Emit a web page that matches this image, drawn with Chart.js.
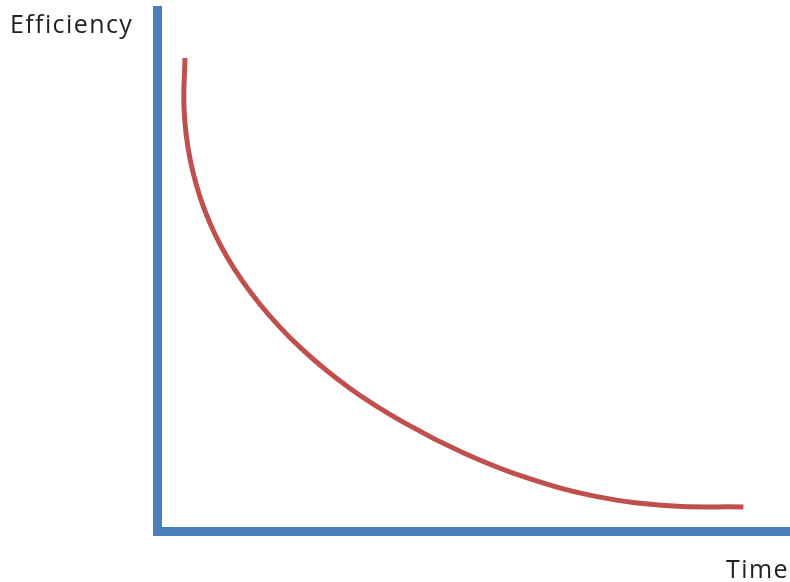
<!DOCTYPE html>
<html>
<head>
<meta charset="utf-8">
<script src="https://cdn.jsdelivr.net/npm/chart.js@4"></script>
<style>
  html, body { margin: 0; padding: 0; background: #ffffff; }
  #wrap { position: relative; width: 790px; height: 582px; }
  canvas { position: absolute; left: 0; top: 0; }
  .lbl { position: absolute; font-family: "Open Sans", sans-serif; font-size: 25px; color: #222; white-space: nowrap; line-height: 1; letter-spacing: 1.4px; }
  #ylab { left: 10px; top: 11px; }
  #xlab { left: 726px; top: 556px; }
</style>
</head>
<body>
<div id="wrap">
  <canvas id="c" width="790" height="582"></canvas>
  <div class="lbl" id="ylab">Efficiency</div>
  <div class="lbl" id="xlab">Time</div>
</div>
<script>
// Curve (x: time, y: efficiency, both on 0-100 axes)
const timeValues       = [4.42, 4.28, 5.24, 7.50, 11.18, 16.26, 22.61, 30.28, 38.96, 48.53, 58.37, 69.51, 80.95, 92.64];
const efficiencyValues = [90.79, 80.81, 71.29, 61.69, 52.34, 43.53, 35.24, 27.56, 20.86, 14.93, 10.23, 6.60, 4.85, 4.62];
const axisTitles = { x: "Time", y: "Efficiency" };

document.getElementById('xlab').textContent = axisTitles.x;
document.getElementById('ylab').textContent = axisTitles.y;

const points = timeValues.map((t, i) => ({ x: t, y: efficiencyValues[i] }));

new Chart(document.getElementById('c'), {
  type: 'scatter',
  data: {
    datasets: [{
      data: points,
      showLine: true,
      borderColor: '#C0504D',
      borderWidth: 5,
      pointRadius: 0,
      tension: 0.4,
      borderCapStyle: 'butt',
      fill: false
    }]
  },
  options: {
    responsive: false,
    animation: false,
    layout: { padding: { left: 157, right: 0, top: 10, bottom: 51 } },
    plugins: { legend: { display: false }, tooltip: { enabled: false } },
    scales: {
      x: {
        type: 'linear', min: 0, max: 100,
        grid: { display: false, drawTicks: false },
        border: { display: true, color: '#4A7EBB', width: 9 },
        ticks: { display: false }
      },
      y: {
        type: 'linear', min: 0, max: 100,
        grid: { display: false, drawTicks: false },
        border: { display: true, color: '#4A7EBB', width: 9 },
        ticks: { display: false }
      }
    }
  }
});
</script>
</body>
</html>
